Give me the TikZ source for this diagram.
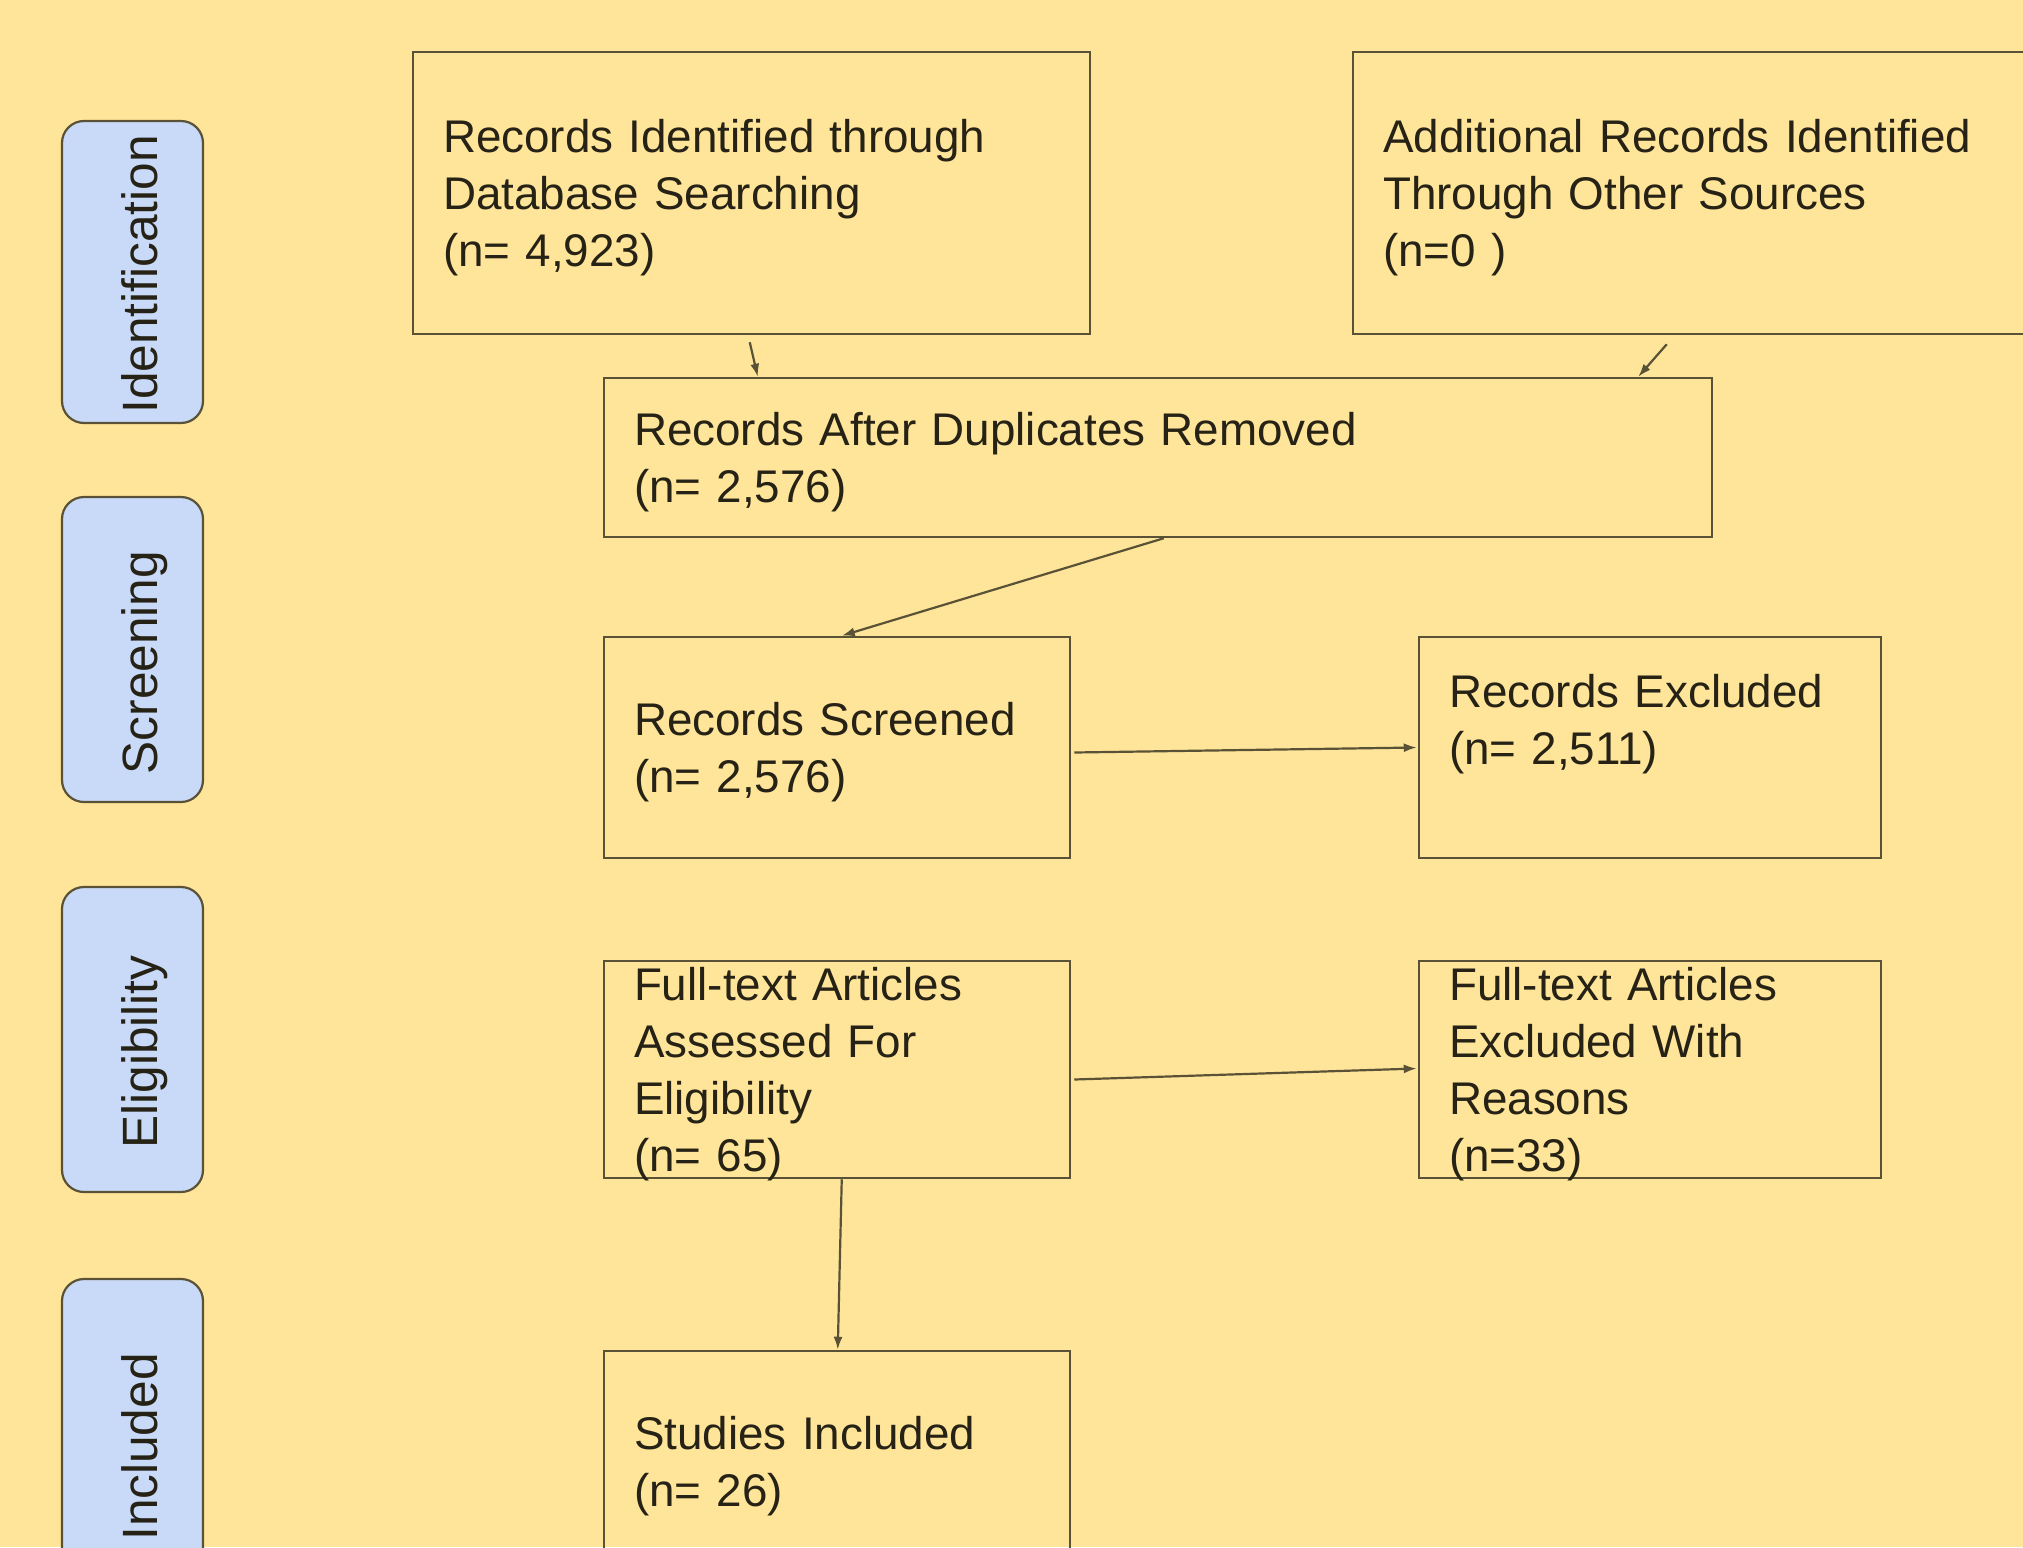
\documentclass[tikz,border=0pt]{standalone}
\usepackage{fontspec}
\setmainfont{Liberation Sans}
\usetikzlibrary{arrows.meta}
\definecolor{bg}{HTML}{FFE599}
\definecolor{lblue}{HTML}{C9DAF8}
\definecolor{edge}{HTML}{5A5236}
\definecolor{ink}{HTML}{262216}
\newcommand\firststrut{\rule{0pt}{43pt}}
\begin{document}
\begin{tikzpicture}[x=1pt,y=-1pt,
  box/.style={draw=edge, line width=2.5pt, rectangle, inner xsep=30pt, inner ysep=0pt,
    align=left, text=ink, font=\fontsize{45.8}{57}\selectfont},
  phase/.style={draw=edge, fill=lblue, line width=2.2pt, rounded corners=22pt, rotate=90,
    minimum height=141pt, text height=49pt, text depth=0pt, inner sep=0pt,
    text=ink, font=\fontsize{49.6}{60}\selectfont},
  arr/.style={draw=edge, line width=2.2pt, -{Latex[length=13pt,width=9pt]}}
]
\useasboundingbox (0,0) rectangle (2023,1547);
\clip (0,0) rectangle (2023,1547);
\fill[bg] (0,0) rectangle (2023,1547);

% phase labels
\node[phase, minimum width=302pt] (p1) at (132.5,272) {Identification\kern5pt};
\node[phase, minimum width=305pt] (p2) at (132.5,649.5) {Screening\kern26pt};
\node[phase, minimum width=305pt] (p3) at (132.5,1039.5) {Eligibility\kern25pt};
\node[phase, minimum width=336pt] (p4) at (132.5,1447) {Included};

% boxes
\node[box, text width=617pt, minimum height=282pt] (b1) at (751.5,193)
  {\firststrut Records Identified through\\Database Searching\\(n= 4,923)};
\node[box, text width=617pt, minimum height=282pt] (b2) at (1691.5,193)
  {\firststrut Additional Records Identified\\Through Other Sources\\(n=0 )};
\node[box, text width=1048pt, minimum height=159pt] (b3) at (1158,457.5)
  {\firststrut Records After Duplicates Removed\\(n= 2,576)};
\node[box, text width=406pt, minimum height=221pt] (b4) at (837,747.5)
  {\firststrut Records Screened\\(n= 2,576)};
\node[box, text width=402pt, minimum height=221pt] (b5) at (1650,747.5)
  {Records Excluded\\(n= 2,511)\\~};
\node[box, text width=406pt, minimum height=217pt] (b6) at (837,1069.5)
  {Full-text Articles\\Assessed For\\Eligibility\\\smash{(n= 65)}};
\node[box, text width=402pt, minimum height=217pt] (b7) at (1650,1069.5)
  {Full-text Articles\\Excluded With\\Reasons\\\smash{(n=33)}};
\node[box, text width=406pt, minimum height=221pt] (b8) at (837,1461.5)
  {\firststrut Studies Included\\(n= 26)};

% connectors
\draw[arr] ([xshift=338pt,yshift=-7pt]b1.south west) -- ([xshift=155pt]b3.north west);
\draw[arr] ([xshift=315pt,yshift=-9pt]b2.south west) -- ([xshift=-75pt]b3.north east);
\draw[arr] ([xshift=561pt]b3.south west) -- ([xshift=239pt]b4.north west);
\draw[arr] ([xshift=3pt,yshift=-5pt]b4.east) -- ([xshift=-1pt]b5.west);
\draw[arr] ([xshift=3pt,yshift=-10pt]b6.east) -- ([xshift=-1pt,yshift=1pt]b7.west);
\draw[arr] ([xshift=239pt]b6.south west) -- ([xshift=235pt]b8.north west);
\end{tikzpicture}
\end{document}
